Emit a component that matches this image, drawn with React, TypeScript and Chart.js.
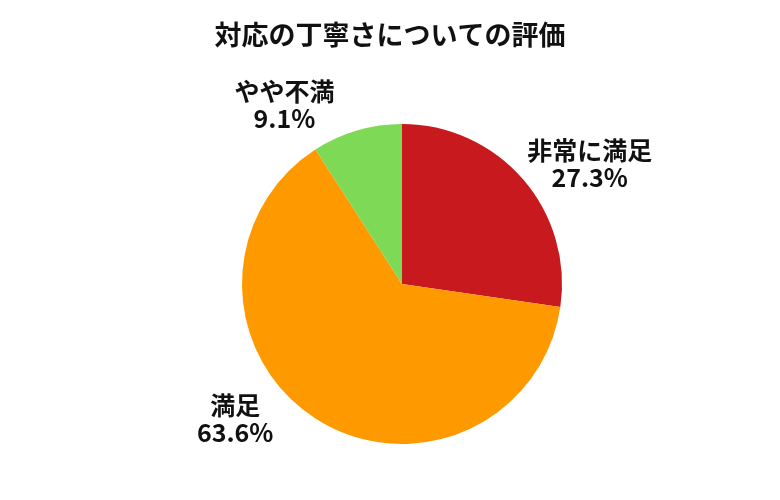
import React, { useEffect, useRef } from "react";
import { Chart, registerables } from "chart.js";

Chart.register(...registerables);

const title = "対応の丁寧さについての評価";
const categories = ["非常に満足", "満足", "やや不満"];
const shares = [27.3, 63.6, 9.1];
const colors = ["#C8191E", "#FF9900", "#7ED957"];
// small text nudges (px) applied after geometry-based label placement
const labelNudges = [
  [-11, 4],
  [-9, -25],
  [-9, 3],
];

const FONT = '"Noto Sans CJK JP", "Noto Sans", sans-serif';

const outsideLabels = {
  id: "outsideLabels",
  afterDraw(chart: any) {
    const ctx = chart.ctx;
    const meta = chart.getDatasetMeta(0);
    ctx.save();
    ctx.fillStyle = "#111111";
    ctx.font = `bold 27px ${FONT}`;
    ctx.textAlign = "center";
    ctx.textBaseline = "middle";
    ctx.fillText(title, chart.width / 2, 35);

    ctx.font = `bold 25px ${FONT}`;
    meta.data.forEach((arc: any, i: number) => {
      const p = arc.getProps(["x", "y", "startAngle", "endAngle", "outerRadius"], true);
      const mid = (p.startAngle + p.endAngle) / 2;
      const R = p.outerRadius + 30;
      const c = Math.cos(mid);
      const s = Math.sin(mid);
      const x = p.x + R * c + Math.sign(c) * 55 + labelNudges[i][0];
      const y = p.y + R * s + labelNudges[i][1];
      ctx.fillText(categories[i], x, y - 13.5);
      ctx.fillText(shares[i].toFixed(1) + "%", x, y + 13.5);
    });
    ctx.restore();
  },
};

export default function App() {
  const ref = useRef<HTMLCanvasElement>(null);
  useEffect(() => {
    document.body.style.margin = "0";
    const chart = new Chart(ref.current!, {
      type: "pie",
      data: {
        labels: categories,
        datasets: [
          {
            data: shares,
            backgroundColor: colors,
            borderWidth: 0,
          },
        ],
      },
      options: {
        animation: false,
        responsive: false,
        layout: { padding: { top: 124, bottom: 56, left: 242, right: 218 } },
        plugins: {
          legend: { display: false },
          tooltip: { enabled: false },
          title: { display: false },
        },
      },
      plugins: [outsideLabels],
    });
    return () => chart.destroy();
  }, []);
  return (
    <div style={{ width: 780, height: 500, background: "#fff" }}>
      <canvas ref={ref} width={780} height={500} style={{ display: "block" }} />
    </div>
  );
}
